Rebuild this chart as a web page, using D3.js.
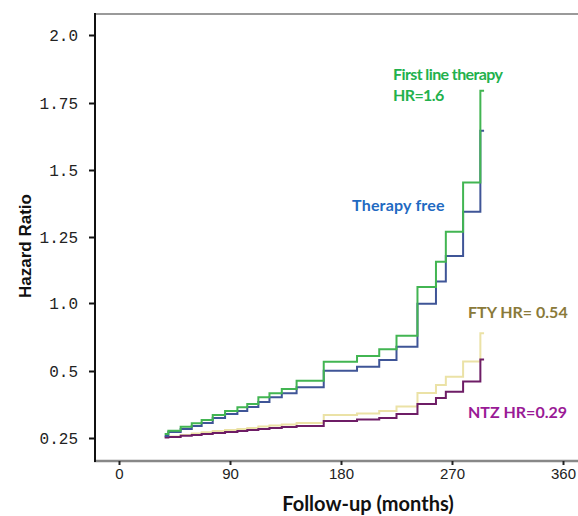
<!DOCTYPE html>
<html>
<head>
<meta charset="utf-8">
<script src="https://cdn.jsdelivr.net/npm/d3@7"></script>
<style>
  body { margin: 0; background: #fff; }
</style>
</head>
<body>
<div id="output"></div>
<script>
// Follow-up times (months) where the step curves change
const stepTimes = [37, 40, 50, 59, 67, 76, 86, 96, 104, 113, 122, 132, 144, 166, 193, 211, 225, 242, 257, 265, 279, 293];
const lastFollowUp = 296;

// Hazard ratio after each step, one array per group
const firstLine   = [0.265, 0.277, 0.292, 0.305, 0.317, 0.336, 0.351, 0.365, 0.377, 0.402, 0.417, 0.433, 0.464, 0.568, 0.610, 0.660, 0.760, 1.061, 1.156, 1.270, 1.453, 1.795];
const therapyFree = [0.257, 0.272, 0.284, 0.295, 0.306, 0.325, 0.340, 0.351, 0.366, 0.384, 0.402, 0.417, 0.439, 0.502, 0.532, 0.581, 0.679, 0.995, 1.081, 1.178, 1.344, 1.646];
const fty         = [0.254, 0.256, 0.261, 0.267, 0.271, 0.276, 0.280, 0.284, 0.287, 0.293, 0.297, 0.300, 0.306, 0.336, 0.341, 0.351, 0.368, 0.418, 0.448, 0.479, 0.570, 0.777];
const ntz         = [0.252, 0.254, 0.258, 0.261, 0.265, 0.269, 0.272, 0.276, 0.280, 0.284, 0.287, 0.291, 0.295, 0.313, 0.319, 0.325, 0.340, 0.377, 0.399, 0.423, 0.461, 0.585];

// Axis ticks
const xTicks = [0, 90, 180, 270, 360];
const yTicks = [0.25, 0.5, 1.0, 1.25, 1.5, 1.75, 2.0];
const yTickLabels = ["0.25", "0.5", "1.0", "1.25", "1.5", "1.75", "2.0"];

const series = [
  { name: "FTY", values: fty, color: "#ebe2a6" },
  { name: "NTZ", values: ntz, color: "#6e1d66" },
  { name: "Therapy free", values: therapyFree, color: "#3f5597" },
  { name: "First line therapy", values: firstLine, color: "#42b552" }
];

const labels = [
  { lines: ["First line therapy", "HR=1.6"], x: 393, y: 80, color: "#22b14c", spacing: -0.6 },
  { lines: ["Therapy free"], x: 352, y: 211, color: "#1f6ac2", spacing: 0.2 },
  { lines: ["FTY HR= 0.54"], x: 468, y: 318, color: "#8a7a3a", spacing: 0 },
  { lines: ["NTZ HR=0.29"], x: 468, y: 418, color: "#9a1a96", spacing: 0 }
];

const width = 578, height = 516;

const svg = d3.select("#output").append("svg")
    .attr("width", width)
    .attr("height", height);

// X scale (months)
const x = d3.scaleLinear()
    .domain([0, 360])
    .range([119, 563]);

// Y scale: the ticks are evenly spaced although the values are not
const y = d3.scaleLinear()
    .domain(yTicks)
    .range([438, 371, 303, 237, 170, 103, 35]);

// Frame
svg.append("line")
    .attr("x1", 95).attr("x2", width)
    .attr("y1", 14).attr("y2", 14)
    .attr("stroke", "#9a9a9a").attr("stroke-width", 2);
svg.append("line")
    .attr("x1", 94).attr("x2", width)
    .attr("y1", 461).attr("y2", 461)
    .attr("stroke", "#888").attr("stroke-width", 2.5);
svg.append("line")
    .attr("x1", 95).attr("x2", 95)
    .attr("y1", 13).attr("y2", 462)
    .attr("stroke", "#111").attr("stroke-width", 2);

// Y axis
const yAxis = svg.append("g")
    .attr("transform", "translate(95,0)")
    .call(d3.axisLeft(y)
        .tickValues(yTicks)
        .tickFormat((d, i) => yTickLabels[i])
        .tickSize(6)
        .tickPadding(11));
yAxis.select(".domain").remove();
yAxis.selectAll("line").attr("stroke", "#111").attr("stroke-width", 2);
yAxis.selectAll("text")
    .attr("fill", "#222")
    .style("font-family", "'Liberation Mono', 'Courier New', monospace")
    .style("font-size", "16px");

// X axis
const xAxis = svg.append("g")
    .attr("transform", "translate(0,461)")
    .call(d3.axisBottom(x)
        .tickValues(xTicks)
        .tickSize(4)
        .tickPadding(3));
xAxis.select(".domain").remove();
xAxis.selectAll("line").attr("stroke", "#222").attr("stroke-width", 2);
xAxis.selectAll("text")
    .attr("fill", "#222")
    .style("font-family", "'Liberation Sans', Arial, sans-serif")
    .style("font-size", "15px");

// Axis titles
svg.append("text")
    .attr("x", 368)
    .attr("y", 511)
    .attr("text-anchor", "middle")
    .style("font-family", "Lato, 'Open Sans', sans-serif")
    .style("font-weight", "bold")
    .style("font-size", "20px")
    .attr("fill", "#111")
    .text("Follow-up (months)");

svg.append("text")
    .attr("transform", "translate(31,246) rotate(-90)")
    .attr("text-anchor", "middle")
    .style("font-family", "'Liberation Sans', Arial, sans-serif")
    .style("font-weight", "bold")
    .style("font-size", "17px")
    .attr("fill", "#111")
    .text("Hazard Ratio");

// Step curves
const line = d3.line()
    .x(d => x(d[0]))
    .y(d => y(d[1]))
    .curve(d3.curveStepAfter);

series.forEach(s => {
  const pts = stepTimes.map((t, i) => [t, s.values[i]]);
  pts.push([lastFollowUp, s.values[s.values.length - 1]]);
  svg.append("path")
      .datum(pts)
      .attr("fill", "none")
      .attr("stroke", s.color)
      .attr("stroke-width", 2)
      .attr("d", line);
});

// Group labels
labels.forEach(l => {
  l.lines.forEach((txt, i) => {
    svg.append("text")
        .attr("x", l.x)
        .attr("y", l.y + i * 21)
        .attr("fill", l.color)
        .style("font-family", "Lato, 'Open Sans', sans-serif")
        .style("font-weight", "bold")
        .style("font-size", "16px")
        .style("letter-spacing", l.spacing + "px")
        .text(txt);
  });
});
</script>
</body>
</html>
